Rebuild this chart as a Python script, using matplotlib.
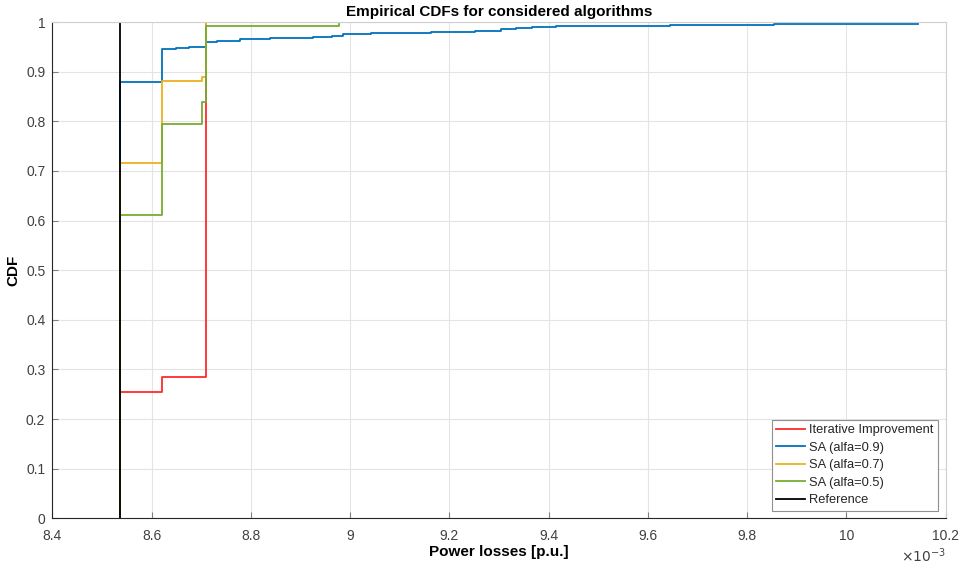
import matplotlib
matplotlib.use("Agg")
import matplotlib.pyplot as plt
from matplotlib.ticker import FixedLocator, FuncFormatter

plt.rcParams['font.family'] = ['Liberation Sans', 'DejaVu Sans']

# Data (power losses in units of 1e-3 p.u.)
reference_x = 8.5357

ii_x = [8.5357, 8.5357, 8.622, 8.709]
ii_cdf = [0.0, 0.255, 0.285, 1.0]

sa09_x = [8.5357, 8.5357, 8.622, 8.649, 8.675, 8.709, 8.731, 8.778, 8.838, 8.925,
          8.963, 8.985, 9.043, 9.164, 9.251, 9.305, 9.335, 9.366, 9.415, 9.644,
          9.854, 10.145]
sa09_cdf = [0.0, 0.880, 0.945, 0.947, 0.950, 0.959, 0.962, 0.965, 0.967, 0.970,
            0.972, 0.975, 0.977, 0.980, 0.982, 0.985, 0.987, 0.989, 0.991, 0.993,
            0.996, 0.996]

sa07_x = [8.5357, 8.5357, 8.622, 8.701, 8.709]
sa07_cdf = [0.0, 0.715, 0.882, 0.890, 1.0]

sa05_x = [8.5357, 8.5357, 8.622, 8.701, 8.709, 8.978]
sa05_cdf = [0.0, 0.612, 0.795, 0.838, 0.992, 0.996]

labels = ['Iterative Improvement', 'SA (alfa=0.9)', 'SA (alfa=0.7)', 'SA (alfa=0.5)', 'Reference']
colors = ['#ff2a2a', '#0072BD', '#EDB120', '#77AC30', '#000000']

x_ticks = [8.4, 8.6, 8.8, 9.0, 9.2, 9.4, 9.6, 9.8, 10.0, 10.2]
y_ticks = [0, 0.1, 0.2, 0.3, 0.4, 0.5, 0.6, 0.7, 0.8, 0.9, 1.0]

fig = plt.figure(figsize=(9.68, 5.70), dpi=100)
ax = fig.add_axes([0.054, 0.0907, 0.923, 0.8707])

lw = 1.3
series = [(ii_x, ii_cdf), (sa09_x, sa09_cdf), (sa07_x, sa07_cdf), (sa05_x, sa05_cdf)]
for (xs, ys), lab, col in zip(series, labels[:4], colors[:4]):
    ax.step(xs, ys, where='post', color=col, lw=lw, label=lab)
ax.plot([reference_x, reference_x], [0, 1], color=colors[4], lw=lw, label=labels[4])

ax.set_xlim(8.4, 10.2)
ax.set_ylim(0, 1)
ax.xaxis.set_major_locator(FixedLocator(x_ticks))
ax.yaxis.set_major_locator(FixedLocator(y_ticks))
fmt = FuncFormatter(lambda v, p: '%g' % round(v, 4))
ax.xaxis.set_major_formatter(fmt)
ax.yaxis.set_major_formatter(fmt)

ax.grid(True, color='#e4e4e4', lw=0.8)
ax.set_axisbelow(True)
for s in ['left', 'bottom']:
    ax.spines[s].set_color('#262626')
    ax.spines[s].set_linewidth(0.8)
for s in ['top', 'right']:
    ax.spines[s].set_color('#d0d0d0')
    ax.spines[s].set_linewidth(0.8)
ax.tick_params(direction='in', length=4, width=0.8, color='#808080',
               labelcolor='#404040', labelsize=10)
ax.tick_params(axis='x', pad=8)
ax.tick_params(axis='y', pad=5)

ax.set_title('Empirical CDFs for considered algorithms', fontsize=11, fontweight='bold', pad=4)
ax.set_xlabel('Power losses [p.u.]', fontsize=11, fontweight='bold', labelpad=1)
ax.set_ylabel('CDF', fontsize=11, fontweight='bold', labelpad=4)

ax.text(1.0, -0.075, r'$\times10^{-3}$', transform=ax.transAxes, ha='right', va='center',
        fontsize=10, color='#404040')

leg = ax.legend(loc='lower right', fontsize=9.3, frameon=True, fancybox=False,
                edgecolor='#909090', framealpha=1, borderaxespad=0.6,
                labelspacing=0.42, handlelength=2.2, handletextpad=0.35,
                borderpad=0.35)
leg.get_frame().set_linewidth(0.8)
for t in leg.get_texts():
    t.set_color('#262626')

fig.savefig('out.png', dpi=100)
